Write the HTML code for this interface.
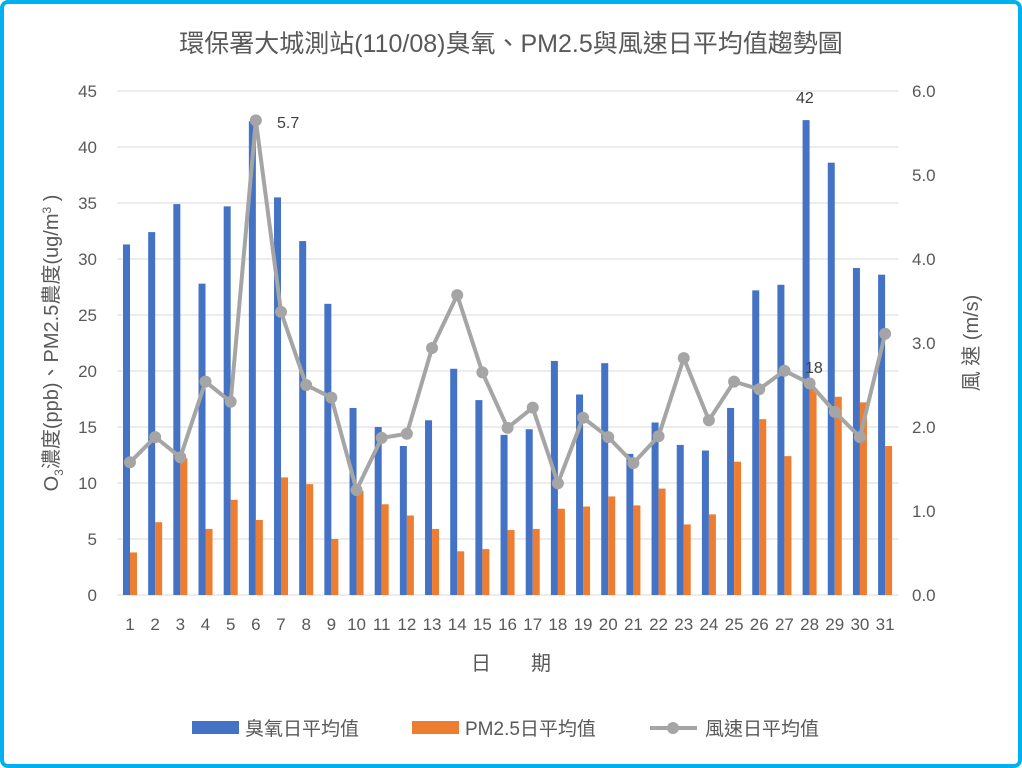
<!DOCTYPE html>
<html><head><meta charset="utf-8"><style>
html,body{margin:0;padding:0;background:#fff;}
svg{display:block;font-family:"Liberation Sans","Noto Sans CJK TC",sans-serif;}
</style></head><body>
<svg id="c" width="1022" height="768" xmlns="http://www.w3.org/2000/svg"></svg>
<script>
const oz=[31.3,32.4,34.9,27.8,34.7,42.3,35.5,31.6,26,16.7,15,13.3,15.6,20.2,17.4,14.3,14.8,20.9,17.9,20.7,12.6,15.4,13.4,12.9,16.7,27.2,27.7,42.4,38.6,29.2,28.6];
const pm=[3.8,6.5,12.2,5.9,8.5,6.7,10.5,9.9,5.0,9.3,8.1,7.1,5.9,3.9,4.1,5.8,5.9,7.7,7.9,8.8,8.0,9.5,6.3,7.2,11.9,15.7,12.4,18.4,17.7,17.2,13.3];
const ws=[1.58,1.88,1.64,2.54,2.30,5.65,3.37,2.5,2.35,1.25,1.87,1.92,2.94,3.57,2.65,1.99,2.23,1.33,2.11,1.88,1.57,1.89,2.82,2.08,2.54,2.45,2.67,2.52,2.18,1.88,3.11];
const y0=595,ky=11.2,kw=84;
const cx=i=>130+i*25.17;
let s='<rect x="2" y="2" width="1018" height="764" rx="6" fill="#fff" stroke="#00B0F0" stroke-width="4"/>';
s+='<text x="511" y="52" text-anchor="middle" font-size="25" fill="#595959">環保署大城測站(110/08)臭氧、PM2.5與風速日平均值趨勢圖</text>';
for(let k=0;k<=9;k++){const y=y0-k*56;
 s+=`<line x1="117" x2="898" y1="${y}" y2="${y}" stroke="#D9D9D9" stroke-width="1"/>`;
 s+=`<text x="97" y="${y+6}" text-anchor="end" font-size="17" fill="#595959">${k*5}</text>`;}
for(let k=0;k<=6;k++){const y=y0-k*84;
 s+=`<text x="912" y="${y+6}" font-size="17" fill="#595959">${k.toFixed(1)}</text>`;}
for(let i=0;i<31;i++){const x=cx(i);
 s+=`<rect x="${x-7}" y="${y0-oz[i]*ky}" width="7" height="${oz[i]*ky}" fill="#4472C4"/>`;
 s+=`<rect x="${x}" y="${y0-pm[i]*ky}" width="7" height="${pm[i]*ky}" fill="#ED7D31"/>`;
 s+=`<text x="${x}" y="630" text-anchor="middle" font-size="17" fill="#595959">${i+1}</text>`;}
s+='<polyline fill="none" stroke="#A5A5A5" stroke-width="4" stroke-linejoin="round" points="'+ws.map((v,i)=>cx(i)+','+(y0-v*kw)).join(' ')+'"/>';
for(let i=0;i<31;i++)s+=`<circle cx="${cx(i)}" cy="${y0-ws[i]*kw}" r="6" fill="#A5A5A5"/>`;
s+='<text x="277" y="128" font-size="16" fill="#404040">5.7</text>';
s+='<text x="796" y="103" font-size="16" fill="#404040">42</text>';
s+='<text x="805" y="373" font-size="16" fill="#404040">18</text>';
s+='<text x="511" y="670" text-anchor="middle" font-size="20" fill="#595959">日　　期</text>';
s+='<text transform="translate(58,343) rotate(-90)" text-anchor="middle" font-size="20" fill="#595959">O<tspan font-size="12" dy="5">3</tspan><tspan dy="-5">濃度(ppb)、PM2.5農度(ug/m</tspan><tspan font-size="12" dy="-7">3</tspan><tspan dy="7"> )</tspan></text>';
s+='<text transform="translate(978,343) rotate(-90)" text-anchor="middle" font-size="20" fill="#595959">風 速 (m/s)</text>';
s+='<rect x="192" y="721" width="47" height="13" fill="#4472C4"/><text x="245" y="735" font-size="19" fill="#595959">臭氧日平均值</text>';
s+='<rect x="412" y="721" width="47" height="13" fill="#ED7D31"/><text x="465" y="735" font-size="19" fill="#595959">PM2.5日平均值</text>';
s+='<line x1="650" x2="697" y1="728" y2="728" stroke="#A5A5A5" stroke-width="4"/><circle cx="673" cy="728" r="6" fill="#A5A5A5"/><text x="705" y="735" font-size="19" fill="#595959">風速日平均值</text>';
document.getElementById('c').innerHTML=s;
</script>
</body></html>
